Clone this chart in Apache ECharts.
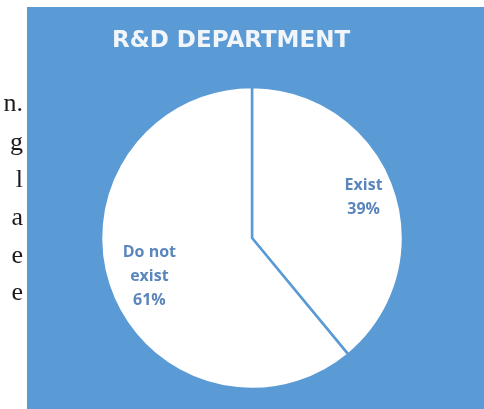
<!DOCTYPE html>
<html>
<head>
<meta charset="utf-8">
<script src="https://cdn.jsdelivr.net/npm/echarts@6/dist/echarts.min.js"></script>
<style>
html,body{margin:0;padding:0;background:#ffffff;}
#Chart{width:484px;height:409px;}
</style>
</head>
<body>
<div id="Chart"></div>
<script>
var categories=["Exist","Do not\nexist"]
var values=[39,61]
var sideText=["n.","g","l","a","e","e"]
var sideTextY=[104,143,180,218,256,293]

//图表
function drawChar(){
	var myChart = echarts.init(document.getElementById('Chart'));
	var pieData=[],labelData=[]
	for(var i=0;i<categories.length;i++){
		pieData.push({name:categories[i],value:values[i]})
		labelData.push({name:categories[i],value:values[i]})
	}
	// 左侧标签往里挪一点
	labelData[1].label={offset:[7,-1]}
	labelData[0].label={offset:[2,-1]}
	// 左侧被截断的正文
	var graphics=[{
		type:'rect',
		shape:{x:27,y:7,width:457,height:402},
		style:{fill:'#5b9bd5'},
		z:-10
	}]
	for(var j=0;j<sideText.length;j++){
		graphics.push({
			type:'text',
			x:23,
			y:sideTextY[j],
			style:{
				text:sideText[j],
				align:'right',
				verticalAlign:'middle',
				font:'26px "Liberation Serif", serif',
				fill:'#1a1a1a'
			}
		})
	}
	var option = {
		animation:false,
		title:{
			text:'R&D DEPARTMENT',
			left:107,
			top:25,
			textStyle:{
				color:'#f2f6fb',
				fontFamily:'DejaVu Sans',
				fontWeight:'bold',
				fontSize:23
			}
		},
		graphic:graphics,
		series:[
			{
				type:'pie',
				center:[252,238],
				radius:[0,151],
				startAngle:90,
				clockwise:true,
				silent:true,
				label:{show:false},
				labelLine:{show:false},
				itemStyle:{
					color:'#ffffff',
					borderColor:'#5b9bd5',
					borderWidth:2.5
				},
				data:pieData
			},
			{
				type:'pie',
				center:[252,238],
				radius:[76,151],
				startAngle:90,
				clockwise:true,
				silent:true,
				itemStyle:{color:'rgba(0,0,0,0)'},
				label:{
					show:true,
					position:'inside',
					color:'#5a86bd',
					fontFamily:'Open Sans',
					fontWeight:'bold',
					fontSize:16,
					lineHeight:24,
					formatter:function(p){
						return p.name+'\n'+p.value+'%'
					}
				},
				labelLine:{show:false},
				data:labelData
			}
		]
	};
	myChart.setOption(option);
}

drawChar()
</script>
</body>
</html>
